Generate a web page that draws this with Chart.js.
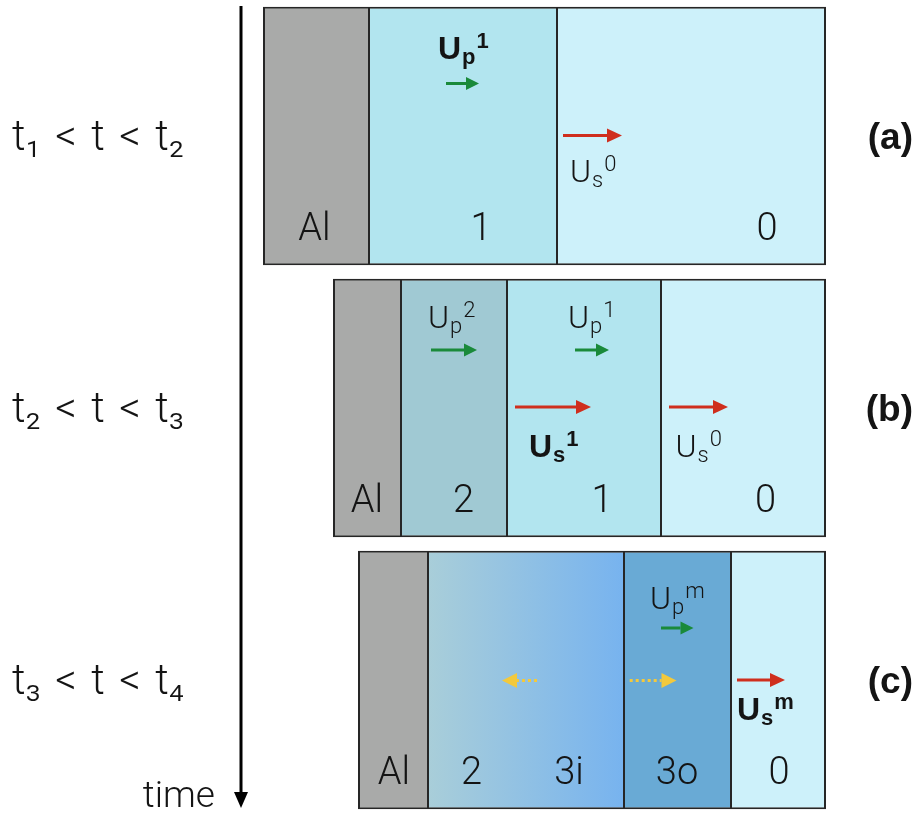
<!DOCTYPE html>
<html><head><meta charset="utf-8">
<script src="https://cdn.jsdelivr.net/npm/chart.js@4/dist/chart.umd.min.js"></script>
<style>html,body{margin:0;padding:0;background:#fff;overflow:hidden}</style>
</head><body>
<canvas id="c" width="917" height="816"></canvas>
<script>
// ---- data ----
const timeLabels = ['t\u2081\u200a < \u200at\u200a < \u200at\u2082', 't\u2082\u200a < \u200at\u200a < \u200at\u2083', 't\u2083\u200a < \u200at\u200a < \u200at\u2084'];
const panelLabels = ['(a)', '(b)', '(c)'];
// layer boundaries along the sample (arbitrary length units), one entry per panel
const alLayer  = [[22, 128], [92, 160], [117, 187]];
const layer2   = [null, [160, 266], null];
const layer23i = [null, null, [187, 383]];
const layer3o  = [null, null, [383, 490]];
const layer1   = [[128, 316], [266, 420], null];
const layer0   = [[316, 585], [420, 585], [490, 585]];
const sampleLength = 585;
// region names per panel
const regionNames = [['Al', '1', '0'], ['Al', '2', '1', '0'], ['Al', '2', '3i', '3o', '0']];
// velocity annotations: [panel, main, sub, sup, bold]
const velocityLabels = [
  [0, 'U', 'p', '1', true], [0, 'U', 's', '0', false],
  [1, 'U', 'p', '2', false], [1, 'U', 'p', '1', false], [1, 'U', 's', '1', true], [1, 'U', 's', '0', false],
  [2, 'U', 'p', 'm', false], [2, 'U', 's', 'm', true]
];
// arrows: [panel, kind]
const arrowKinds = [
  [0, 'particle'], [0, 'shock'],
  [1, 'particle'], [1, 'particle'], [1, 'shock'], [1, 'shock'],
  [2, 'particle'], [2, 'release'], [2, 'release'], [2, 'shock']
];

// ---- layout (positions in axis units, dy in px from panel centre) ----
const regionLabelX = [[73.5, 240, 526], [126, 222.5, 361, 524.5], [153, 230.5, 328, 436, 538]];
const regionLabelDy = 104;
const velocityPos = [[197, -77.5], [329, 45.5], [187, -80], [327, -80], [288, 49], [434.5, 49], [409, -71], [496, 40]];
const arrowPos = [[205, 238, -52.5], [322, 381, -0.5], [190, 236, -58], [334, 368, -58], [274, 350, -1], [428, 487, -1],
                  [420, 452.5, -52], [296, 261, 0.5], [388.7, 435.5, 0.5], [496, 544, 0]];
const arrowStyle = {
  particle: {color: '#1a8a3a', lw: 3, hl: 13, hw: 6.5, dash: null},
  shock:    {color: '#cf2e1d', lw: 3, hl: 15, hw: 7, dash: null},
  release:  {color: '#f3c93c', lw: 3, hl: 15, hw: 7.5, dash: [3, 3]}
};
const LIGHT = '"Roboto", "Liberation Sans", sans-serif';
const BOLD = '"Liberation Sans", Arial, sans-serif';
const TXT = '#141414';

function drawArrow(ctx, x0, x1, y, st) {
  const dir = Math.sign(x1 - x0);
  ctx.save();
  ctx.strokeStyle = st.color; ctx.lineWidth = st.lw;
  ctx.setLineDash(st.dash || []);
  ctx.beginPath(); ctx.moveTo(x0, y); ctx.lineTo(x1 - dir * st.hl, y); ctx.stroke();
  ctx.setLineDash([]);
  ctx.fillStyle = st.color;
  ctx.beginPath(); ctx.moveTo(x1, y); ctx.lineTo(x1 - dir * st.hl, y - st.hw); ctx.lineTo(x1 - dir * st.hl, y + st.hw);
  ctx.closePath(); ctx.fill();
  ctx.restore();
}
function drawVel(ctx, x, y, main, sub, sup, bold) {
  const f = s => bold ? 'bold ' + s + 'px ' + BOLD : '300 ' + s + 'px ' + LIGHT;
  ctx.fillStyle = TXT; ctx.textAlign = 'left'; ctx.textBaseline = 'alphabetic';
  ctx.font = f(32); ctx.fillText(main, x, y);
  const w = ctx.measureText(main).width;
  ctx.font = f(22); ctx.fillText(sub, x + w + 1, y + 5);
  const ws = ctx.measureText(sub).width;
  ctx.fillText(sup, x + w + ws + 2, y - 11);
}

const overlay = {
  id: 'overlay',
  afterDatasetsDraw(chart) {
    const ctx = chart.ctx, xs = chart.scales.x, ys = chart.scales.y, area = chart.chartArea;
    ctx.save();
    // time arrow
    const tx = area.left;
    ctx.strokeStyle = '#000'; ctx.lineWidth = 3;
    ctx.beginPath(); ctx.moveTo(tx, 6); ctx.lineTo(tx, 795); ctx.stroke();
    ctx.fillStyle = '#000';
    ctx.beginPath(); ctx.moveTo(tx, 808); ctx.lineTo(tx - 7, 792); ctx.lineTo(tx + 7, 792); ctx.closePath(); ctx.fill();
    ctx.font = '300 37px ' + LIGHT; ctx.fillStyle = TXT; ctx.textAlign = 'right'; ctx.textBaseline = 'alphabetic';
    ctx.fillText('time', tx - 26, 807);
    // region names
    ctx.font = '300 38px ' + LIGHT; ctx.textAlign = 'center';
    regionNames.forEach((names, p) => {
      const cy = ys.getPixelForValue(p);
      names.forEach((n, i) => ctx.fillText(n, xs.getPixelForValue(regionLabelX[p][i]), cy + regionLabelDy));
    });
    // velocity labels
    velocityLabels.forEach((v, i) => {
      const cy = ys.getPixelForValue(v[0]);
      drawVel(ctx, xs.getPixelForValue(velocityPos[i][0]), cy + velocityPos[i][1], v[1], v[2], v[3], v[4]);
    });
    // arrows
    arrowKinds.forEach((a, i) => {
      const cy = ys.getPixelForValue(a[0]);
      const p = arrowPos[i];
      drawArrow(ctx, xs.getPixelForValue(p[0]), xs.getPixelForValue(p[1]), cy + p[2], arrowStyle[a[1]]);
    });
    ctx.restore();
  }
};

const edge = '#262626';
const wFirst = {top: 2, bottom: 2, left: 2, right: 1};
const wMid = {top: 2, bottom: 2, left: 1, right: 1};
const wLast = {top: 2, bottom: 2, left: 1, right: 2};
function gradientFill(c) {
  const chart = c.chart;
  if (!chart.chartArea || !c.raw) return '#93c2e2';
  const xs = chart.scales.x;
  const g = chart.ctx.createLinearGradient(xs.getPixelForValue(c.raw[0]), 0, xs.getPixelForValue(c.raw[1]), 0);
  g.addColorStop(0, '#a9ced9'); g.addColorStop(1, '#77b3ef');
  return g;
}
function noVerticalPad(width) {
  return s => { s.width = width; s.paddingTop = 0; s.paddingBottom = 0; };
}

new Chart(document.getElementById('c'), {
  type: 'bar',
  data: {
    labels: timeLabels,
    datasets: [
      {label: 'Al', data: alLayer, backgroundColor: '#a9aaa9', borderWidth: wFirst},
      {label: '2', data: layer2, backgroundColor: '#a0c9d3', borderWidth: wMid},
      {label: '2 - 3i', data: layer23i, backgroundColor: gradientFill, borderWidth: wMid},
      {label: '3o', data: layer3o, backgroundColor: '#69aad5', borderWidth: wMid},
      {label: '1', data: layer1, backgroundColor: '#b2e5ef', borderWidth: wMid},
      {label: '0', data: layer0, backgroundColor: '#cdf1fa', borderWidth: wLast}
    ]
  },
  options: {
    indexAxis: 'y', responsive: false, animation: false,
    layout: {padding: {left: 12, right: 4, top: 0, bottom: 0}},
    plugins: {legend: {display: false}, tooltip: {enabled: false}},
    datasets: {bar: {grouped: false, categoryPercentage: 0.95, barPercentage: 1, borderSkipped: false, borderColor: edge}},
    scales: {
      x: {type: 'linear', min: 0, max: sampleLength, display: false},
      y: {type: 'category', position: 'left', offset: true,
          grid: {display: false, drawTicks: false}, border: {display: false},
          ticks: {crossAlign: 'far', padding: 0, labelOffset: 3, color: TXT, font: {family: LIGHT, weight: '300', size: 42}},
          afterFit: noVerticalPad(229)},
      y2: {type: 'category', position: 'right', labels: panelLabels, offset: true,
          grid: {display: false, drawTicks: false}, border: {display: false},
          ticks: {crossAlign: 'far', padding: 0, labelOffset: 3, color: TXT, font: {family: BOLD, weight: 'bold', size: 37}},
          afterFit: noVerticalPad(87)}
    }
  },
  plugins: [overlay]
});
</script>
</body></html>
